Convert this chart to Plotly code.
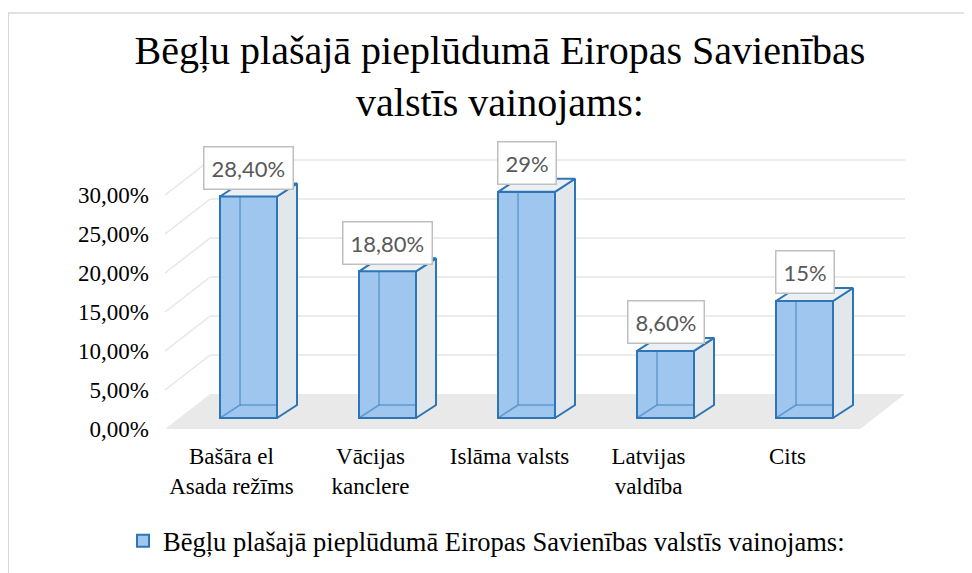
import plotly.graph_objects as go

# ---- data ----
categories = ["Bašāra el<br>Asada režīms", "Vācijas<br>kanclere", "Islāma valsts",
              "Latvijas<br>valdība", "Cits"]
values = [28.4, 18.8, 29.0, 8.6, 15.0]
y_ticks = [0, 5, 10, 15, 20, 25, 30]
series_name = "Bēgļu plašajā pieplūdumā Eiropas Savienības valstīs vainojams:"
title_lines = ["Bēgļu plašajā pieplūdumā Eiropas Savienības", "valstīs vainojams:"]


def fmt_label(v):
    if float(v).is_integer():
        return f"{int(v)}%"
    return f"{v:.2f}%".replace(".", ",")


def fmt_tick(v):
    return f"{v:.2f}%".replace(".", ",")


# ---- 3D-look geometry (in data units) ----
W = 0.41          # bar width (category units)
B = 1.41          # bar base raised by perspective
BDX, BDY = 0.144, 1.67   # bar depth offset
FX0, FX1 = -0.60, 4.40   # floor front edge
DX, DY = 0.324, 4.49     # floor / wall depth offset

EDGE = "#2E75B6"
FRONT = "#9EC6EE"
SIDE = "#E2E7EC"
TOP = "#ECF0F5"
HIDDEN = "rgba(46,117,182,0.55)"
SERIF = "Liberation Serif"

idx = list(range(len(categories)))

fig = go.Figure()

# front faces as real bars
fig.add_trace(go.Bar(
    x=idx, y=values, base=[B] * len(values), width=W, name=series_name,
    marker=dict(color=FRONT, line=dict(color=EDGE, width=2)),
    showlegend=True, hoverinfo="skip",
))

for i, v in zip(idx, values):
    xl, xr = i - W / 2, i + W / 2
    top = B + v
    # hidden (see-through) edges
    fig.add_trace(go.Scatter(
        x=[xl, xl + BDX, xl + BDX, None, xl + BDX, xr + BDX],
        y=[B, B + BDY, top + BDY, None, B + BDY, B + BDY],
        mode="lines", line=dict(color=HIDDEN, width=1.5),
        showlegend=False, hoverinfo="skip"))
    # right face
    fig.add_trace(go.Scatter(
        x=[xr, xr + BDX, xr + BDX, xr, xr],
        y=[B, B + BDY, top + BDY, top, B],
        mode="lines", fill="toself", fillcolor=SIDE,
        line=dict(color=EDGE, width=2), showlegend=False, hoverinfo="skip"))
    # top face
    fig.add_trace(go.Scatter(
        x=[xl, xl + BDX, xr + BDX, xr, xl],
        y=[top, top + BDY, top + BDY, top, top],
        mode="lines", fill="toself", fillcolor=TOP,
        line=dict(color=EDGE, width=2), showlegend=False, hoverinfo="skip"))

# label axis trace (invisible) on xaxis2
fig.add_trace(go.Scatter(x=idx, y=[0] * len(idx), xaxis="x2", mode="markers",
                         marker=dict(opacity=0), showlegend=False, hoverinfo="skip"))

shapes = []
# floor
shapes.append(dict(type="path", xref="x", yref="y", layer="below",
                   path=f"M {FX0},0 L {FX1},0 L {FX1 + DX},{DY} L {FX0 + DX},{DY} Z",
                   fillcolor="#E9E9E9", line=dict(width=0)))
# gridlines (side diagonal + back wall)
for t in y_ticks[1:]:
    shapes.append(dict(type="line", xref="x", yref="y", layer="below",
                       x0=FX0, y0=t, x1=FX0 + DX, y1=t + DY,
                       line=dict(color="#E6E6E6", width=1.5)))
    shapes.append(dict(type="line", xref="x", yref="y", layer="below",
                       x0=FX0 + DX, y0=t + DY, x1=FX1 + DX, y1=t + DY,
                       line=dict(color="#E6E6E6", width=1.5)))
# chart border
shapes.append(dict(type="rect", xref="paper", yref="paper", layer="below",
                   x0=-0.184, y0=-0.6, x1=1.2, y1=1.4233,
                   line=dict(color="#D9D9D9", width=1.5), fillcolor="rgba(0,0,0,0)"))

annotations = []
for i, v in zip(idx, values):
    annotations.append(dict(
        x=i, y=B + v + 3.7, xref="x", yref="y", text=fmt_label(v), showarrow=False,
        font=dict(family="Lato", size=22, color="#595959"),
        bgcolor="white", bordercolor="#BFBFBF", borderwidth=1.5, borderpad=7,
        xanchor="center", yanchor="middle"))

x0r = -(248.5 - 150) / 139
x1r = x0r + 770 / 139
y0r = -11 / 7.8
y1r = y0r + 300 / 7.8

fig.update_layout(
    width=972, height=573,
    margin=dict(l=142, r=60, t=132, b=141, autoexpand=False),
    paper_bgcolor="white", plot_bgcolor="rgba(0,0,0,0)",
    title=dict(text="<br>".join(title_lines), x=0.4545, xref="paper", xanchor="center",
               y=1 - 56 / 573, yref="container", yanchor="middle",
               font=dict(family=SERIF, size=40, color="black")),
    xaxis=dict(range=[x0r, x1r], showgrid=False, zeroline=False, showticklabels=False,
               showline=False, fixedrange=True, automargin=False),
    xaxis2=dict(range=[x0r + 17 / 139, x1r + 17 / 139], overlaying="x", side="bottom",
                tickvals=idx, ticktext=categories, showgrid=False, zeroline=False,
                showline=False, ticks="", automargin=False,
                tickfont=dict(family=SERIF, size=23, color="black")),
    yaxis=dict(range=[y0r, y1r], tickvals=y_ticks, ticktext=[fmt_tick(t) for t in y_ticks],
               showgrid=False, zeroline=False, showline=False, ticks="", automargin=False,
               tickfont=dict(family=SERIF, size=23, color="black")),
    legend=dict(orientation="h", x=(123 - 150) / 770, xanchor="left",
                y=(440 - 541) / 300, yanchor="middle",
                font=dict(family=SERIF, size=26.5, color="black"),
                bgcolor="rgba(0,0,0,0)"),
    shapes=shapes, annotations=annotations, bargap=0,
)

fig.write_html("out.html")
